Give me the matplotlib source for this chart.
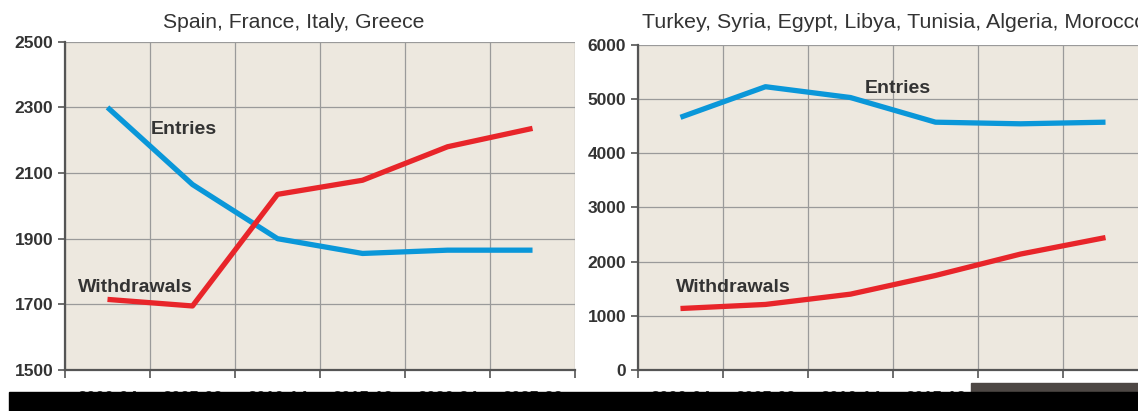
import matplotlib.pyplot as plt
import matplotlib.patches as patches

periods = ["2000-04", "2005-09", "2010-14", "2015-19", "2020-24", "2025-29"]

# Spain, France, Italy, Greece
west_entries = [2300, 2065, 1900, 1855, 1865, 1865]
west_withdrawals = [1715, 1695, 2035, 2078, 2180, 2236]

# Turkey, Syria, Egypt, Libya, Tunisia, Algeria, Morocco
south_entries = [4665, 5230, 5030, 4575, 4545, 4575]
south_withdrawals = [1135, 1210, 1400, 1745, 2140, 2445]

BLUE = "#0a97d9"
RED = "#e8252a"
BG = "#ede8df"
TXT = "#333333"

plt.rcParams['font.family'] = ['Liberation Sans', 'DejaVu Sans']

fig = plt.figure(figsize=(11.38, 4.11), dpi=100)
ax1 = fig.add_axes([0.0571, 0.0998, 0.4482, 0.7987])
ax2 = fig.add_axes([0.5606, 0.0998, 0.4482, 0.7907])


def style(ax, ylim, step):
    n = len(periods)
    x = list(range(n))
    ax.set_facecolor(BG)
    ax.set_xlim(-0.5, n - 0.5)
    ax.set_ylim(*ylim)
    # major ticks on the category borders, labels in the middle
    ax.set_xticks([i - 0.5 for i in range(n + 1)])
    ax.set_xticklabels([])
    ax.set_xticks(x, minor=True)
    ax.set_xticklabels(periods, minor=True, fontsize=12, fontweight='bold', color=TXT)
    ax.tick_params(axis='x', which='minor', length=0, pad=15)
    ax.tick_params(axis='x', which='major', length=6, width=1.2, color='#555555')
    ax.set_yticks(range(ylim[0], ylim[1] + 1, step))
    ax.tick_params(axis='y', length=5, width=1.2, color='#555555', labelsize=12.5, labelcolor=TXT)
    for lab in ax.get_yticklabels():
        lab.set_fontweight('bold')
    ax.grid(True, which='major', color='#9a9a9a', linewidth=0.9)
    ax.set_axisbelow(True)
    for s in ('top', 'right'):
        ax.spines[s].set_visible(False)
    for s in ('left', 'bottom'):
        ax.spines[s].set_color('#555555')
        ax.spines[s].set_linewidth(1.6)
    return x


x = style(ax1, (1500, 2500), 200)
ax1.plot(x, west_entries, color=BLUE, lw=3.8, solid_capstyle='butt', solid_joinstyle='round')
ax1.plot(x, west_withdrawals, color=RED, lw=3.8, solid_capstyle='butt', solid_joinstyle='round')
ax1.text(0.9, 2234, "Entries", ha='center', va='center', fontsize=14, fontweight='bold', color=TXT)
ax1.text(0.33, 1750, "Withdrawals", ha='center', va='center', fontsize=14, fontweight='bold', color=TXT)

x = style(ax2, (0, 6000), 1000)
ax2.plot(x, south_entries, color=BLUE, lw=3.8, solid_capstyle='butt', solid_joinstyle='round')
ax2.plot(x, south_withdrawals, color=RED, lw=3.8, solid_capstyle='butt', solid_joinstyle='round')
ax2.text(2.56, 5206, "Entries", ha='center', va='center', fontsize=14, fontweight='bold', color=TXT)
ax2.text(0.62, 1514, "Withdrawals", ha='center', va='center', fontsize=14, fontweight='bold', color=TXT)

fig.text(163 / 1138, 1 - 22.5 / 411, "Spain, France, Italy, Greece",
         ha='left', va='center', fontsize=15.2, color=TXT)
fig.text(642 / 1138, 1 - 22.5 / 411, "Turkey, Syria, Egypt, Libya, Tunisia, Algeria, Morocco",
         ha='left', va='center', fontsize=15.4, color=TXT)

# dark bands along the bottom edge
fig.add_artist(patches.Rectangle((971 / 1138, 0), 1, 28.5 / 411, transform=fig.transFigure,
                                 color='#4d4744', zorder=10))
fig.add_artist(patches.Rectangle((9 / 1138, 0), 1, 19.5 / 411, transform=fig.transFigure,
                                 color='black', zorder=11))

fig.savefig("out.png", dpi=100)
